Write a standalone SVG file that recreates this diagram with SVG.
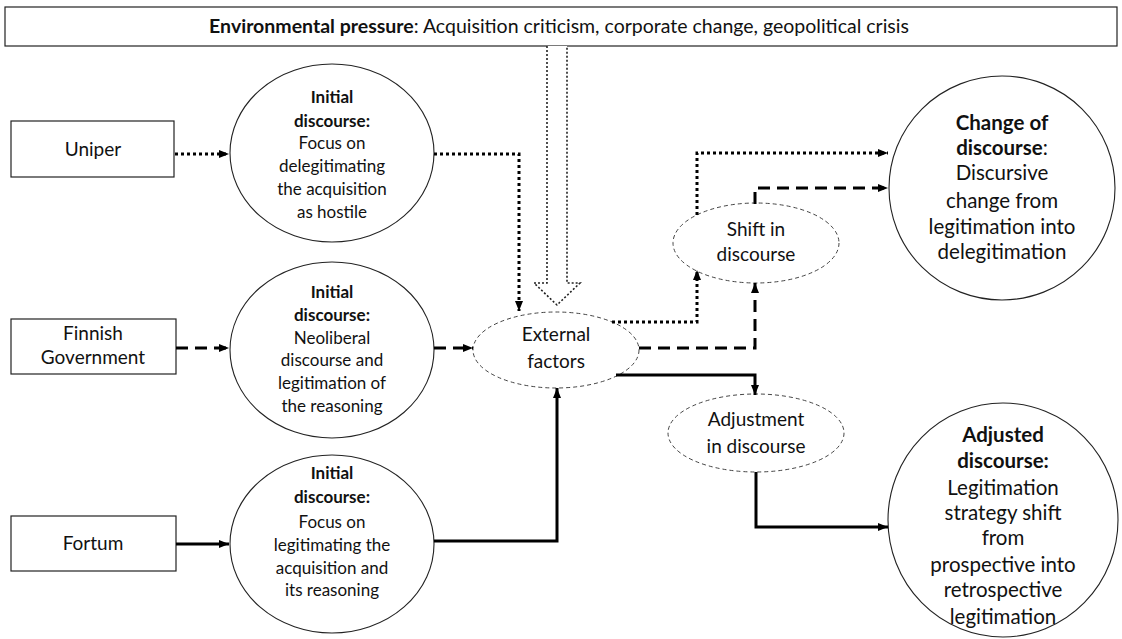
<svg xmlns="http://www.w3.org/2000/svg" width="1122" height="639" viewBox="0 0 1122 639">
<style>
text{font-family:Lato,"Liberation Sans",sans-serif;fill:#111;text-anchor:middle}
.b{font-weight:bold}
.box{fill:#fff;stroke:#222;stroke-width:1.2}
.ell{fill:#fff;stroke:#222;stroke-width:1.1}
.dell{fill:#fff;stroke:#444;stroke-width:1;stroke-dasharray:4 3}
.c{fill:none;stroke:#000;stroke-width:3}
.dot{stroke-dasharray:3 3}
.dash{stroke-dasharray:12 7}
.l{font-size:17px}
.r{font-size:20.5px}
.m{font-size:19px}
</style>
<defs>
<marker id="ah" markerUnits="userSpaceOnUse" markerWidth="10" markerHeight="10" viewBox="0 0 10 10" refX="10" refY="5" orient="auto">
<path d="M0,1 L10,5 L0,9 Z" fill="#000"/>
</marker>
</defs>
<g id="env">
<rect class="box" x="5" y="7" width="1112" height="39"/>
<text x="559" y="33" style="font-size:19.5px"><tspan class="b">Environmental pressure</tspan>: Acquisition criticism, corporate change, geopolitical crisis</text>
</g>
<g id="envarrow">
<path d="M547,46 V283 H534 L557,305 L580,283 H567 V46" fill="#fff" stroke="#222" stroke-width="1.6" stroke-dasharray="2 2"/>
</g>
<g id="uniper">
<rect class="box" x="11" y="121" width="163" height="56"/>
<text class="m" x="93" y="156">Uniper</text>
</g>
<g id="finnish">
<rect class="box" x="11" y="319" width="165" height="55"/>
<text class="m" x="93" y="340">Finnish</text>
<text class="m" x="93" y="364">Government</text>
</g>
<g id="fortum">
<rect class="box" x="11" y="516" width="165" height="55"/>
<text class="m" x="93" y="550">Fortum</text>
</g>
<g id="init1">
<ellipse class="ell" cx="332" cy="153" rx="102" ry="89"/>
<text class="l" x="332"><tspan class="b" x="332" y="103">Initial</tspan><tspan class="b" x="332" y="127">discourse:</tspan><tspan x="332" y="149">Focus on</tspan><tspan x="332" y="172">delegitimating</tspan><tspan x="332" y="195">the acquisition</tspan><tspan x="332" y="218">as hostile</tspan></text>
</g>
<g id="init2">
<ellipse class="ell" cx="332" cy="350" rx="102" ry="88"/>
<text class="l" x="332"><tspan class="b" x="332" y="298">Initial</tspan><tspan class="b" x="332" y="321">discourse:</tspan><tspan x="332" y="344">Neoliberal</tspan><tspan x="332" y="366">discourse and</tspan><tspan x="332" y="389">legitimation of</tspan><tspan x="332" y="412">the reasoning</tspan></text>
</g>
<g id="init3">
<ellipse class="ell" cx="332" cy="544" rx="102" ry="89"/>
<text class="l" x="332"><tspan class="b" x="332" y="479">Initial</tspan><tspan class="b" x="332" y="503">discourse:</tspan><tspan x="332" y="528">Focus on</tspan><tspan x="332" y="551">legitimating the</tspan><tspan x="332" y="574">acquisition and</tspan><tspan x="332" y="596">its reasoning</tspan></text>
</g>
<g id="external">
<ellipse class="dell" cx="556" cy="350" rx="83" ry="38"/>
<text class="m" x="556"><tspan x="556" y="341">External</tspan><tspan x="556" y="368">factors</tspan></text>
</g>
<g id="shift">
<ellipse class="dell" cx="756" cy="243" rx="83" ry="40"/>
<text class="m" x="756"><tspan x="756" y="236">Shift in</tspan><tspan x="756" y="261">discourse</tspan></text>
</g>
<g id="adjustment">
<ellipse class="dell" cx="756" cy="433" rx="88" ry="39"/>
<text class="m" x="756"><tspan x="756" y="426">Adjustment</tspan><tspan x="756" y="453">in discourse</tspan></text>
</g>
<g id="change">
<ellipse class="ell" cx="1002" cy="188" rx="113" ry="112"/>
<text class="r" x="1002"><tspan class="b" x="1002" y="130">Change of</tspan><tspan x="1002" y="155"><tspan class="b">discourse</tspan>:</tspan><tspan x="1002" y="180">Discursive</tspan><tspan x="1002" y="208">change from</tspan><tspan x="1002" y="234">legitimation into</tspan><tspan x="1002" y="259">delegitimation</tspan></text>
</g>
<g id="adjusted">
<ellipse class="ell" cx="1003" cy="520" rx="115" ry="117"/>
<text class="r" x="1003"><tspan class="b" x="1003" y="442">Adjusted</tspan><tspan class="b" x="1003" y="468">discourse:</tspan><tspan x="1003" y="495">Legitimation</tspan><tspan x="1003" y="520">strategy shift</tspan><tspan x="1003" y="545">from</tspan><tspan x="1003" y="572">prospective into</tspan><tspan x="1003" y="597">retrospective</tspan><tspan x="1003" y="624">legitimation</tspan></text>
</g>
<g id="connectors">
<path class="c dot" d="M175,154 H229" marker-end="url(#ah)"/>
<path class="c dash" d="M176,348 H229" marker-end="url(#ah)"/>
<path class="c" d="M176,544 H229" marker-end="url(#ah)"/>
<path class="c dot" d="M434,154 H519 V311" marker-end="url(#ah)"/>
<path class="c dash" d="M434,348 H473" marker-end="url(#ah)"/>
<path class="c" d="M434,541 H557 V388" marker-end="url(#ah)"/>
<path class="c dot" d="M612,322 H697 V270" marker-end="url(#ah)"/>
<path class="c dot" d="M697,215 V153 H888" marker-end="url(#ah)"/>
<path class="c dash" d="M639,348 H755 V283" marker-end="url(#ah)"/>
<path class="c dash" d="M755,204 V188 H888" marker-end="url(#ah)"/>
<path class="c" d="M616,375 H755 V395" marker-end="url(#ah)"/>
<path class="c" d="M756,472 V527 H888" marker-end="url(#ah)"/>
</g>
</svg>
